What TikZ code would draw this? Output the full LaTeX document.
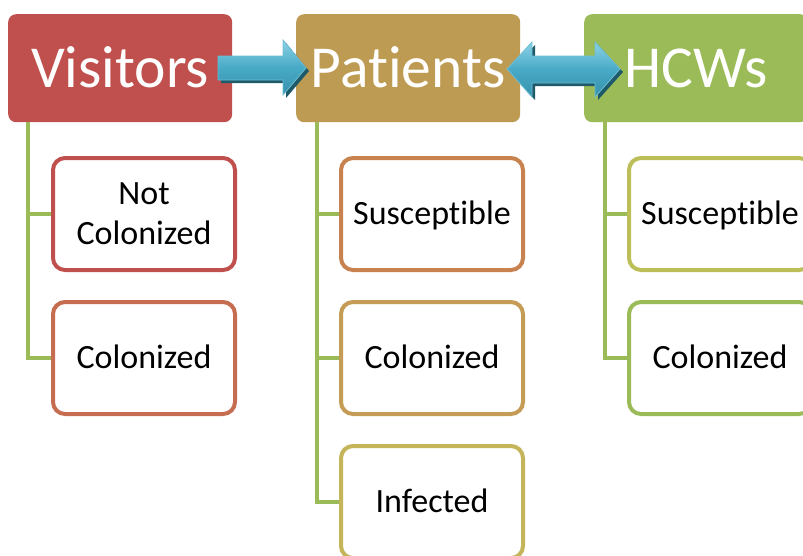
\documentclass[tikz,border=0pt]{standalone}
\usepackage{fontspec}
\setmainfont{Carlito}[RawFeature={-liga;-clig;-dlig}]
\definecolor{visc}{RGB}{192,80,77}
\definecolor{patc}{RGB}{190,155,83}
\definecolor{hcwc}{RGB}{155,187,89}
\definecolor{treeg}{RGB}{155,187,89}
\definecolor{c1}{RGB}{192,80,77}
\definecolor{c2}{RGB}{198,108,80}
\definecolor{c3}{RGB}{200,130,80}
\definecolor{c4}{RGB}{196,156,86}
\definecolor{c5}{RGB}{196,180,90}
\definecolor{c6}{RGB}{188,190,88}
\definecolor{c7}{RGB}{155,187,89}
\definecolor{arrtop}{RGB}{140,210,230}
\definecolor{arrmid}{RGB}{72,170,198}
\definecolor{arrbot}{RGB}{55,145,172}
\definecolor{arrsh}{RGB}{30,90,105}
\definecolor{arrline}{RGB}{110,190,212}
\begin{document}
\begin{tikzpicture}[x=1pt,y=1pt,
  head/.style={rounded corners=8pt, minimum width=224pt, minimum height=108pt,
    text=white, font=\fontsize{59.5}{70}\selectfont, inner sep=0pt,
    text height=38.3pt, text depth=0pt, anchor=north west},
  child/.style={draw, line width=4pt, rounded corners=12pt, fill=white,
    minimum width=182pt, minimum height=112pt, anchor=north west,
    font=\fontsize{34}{40}\selectfont, align=center, inner sep=0pt},
  one/.style={text height=21.9pt, text depth=0pt},
  tree/.style={draw=treeg, line width=4.5pt},
  arrshade/.style={top color=arrtop, bottom color=arrbot, middle color=arrmid, draw=arrline, line width=0.8pt},
  arrshadow/.style={fill=arrsh}]
\useasboundingbox (0,0) rectangle (803,-555);
\clip (0,0) rectangle (803,-555);

% headers
\node[head, fill=visc] (vis) at (8,-14) {Visitors};
\node[head, fill=patc] (pat) at (296,-14) {Patients};
\node[head, fill=hcwc] (hcw) at (584,-14) {HCWs};

% children
\node[child, draw=c1] (v1) at (51,-156) {Not\\Colonized};
\node[child, draw=c2, one] (v2) at (51,-300) {Colonized};
\node[child, draw=c3, one] (p1) at (339,-156) {Susceptible};
\node[child, draw=c4, one] (p2) at (339,-300) {Colonized};
\node[child, draw=c5, one] (p3) at (339,-444) {Infected};
\node[child, draw=c6, one] (h1) at (627,-156) {Susceptible};
\node[child, draw=c7, one] (h2) at (627,-300) {Colonized};

% tree lines
\draw[tree] ([xshift=20pt]vis.south west) |- (v1.west);
\draw[tree] ([xshift=20pt]vis.south west) |- (v2.west);
\draw[tree] ([xshift=21pt]pat.south west) |- (p1.west);
\draw[tree] ([xshift=21pt]pat.south west) |- (p2.west);
\draw[tree] ([xshift=21pt]pat.south west) |- (p3.west);
\draw[tree] ([xshift=21pt]hcw.south west) |- (h1.west);
\draw[tree] ([xshift=21pt]hcw.south west) |- (h2.west);

% arrow Visitors -> Patients
\begin{scope}[shift={(3,-3)}]
\fill[arrshadow] (218,-56) -- (283,-56) -- (283,-40) -- (306,-68) -- (283,-95) -- (283,-80) -- (218,-80) -- cycle;
\end{scope}
\path[arrshade] (218,-56) -- (283,-56) -- (283,-40) -- (306,-68) -- (283,-95) -- (283,-80) -- (218,-80) -- cycle;

% double arrow Patients <-> HCWs
\begin{scope}[shift={(3,-3)}]
\fill[arrshadow] (507,-69) -- (532,-42) -- (532,-56) -- (595,-56) -- (595,-42) -- (620,-69) -- (595,-97) -- (595,-83) -- (532,-83) -- (532,-97) -- cycle;
\end{scope}
\path[arrshade] (507,-69) -- (532,-42) -- (532,-56) -- (595,-56) -- (595,-42) -- (620,-69) -- (595,-97) -- (595,-83) -- (532,-83) -- (532,-97) -- cycle;
\end{tikzpicture}
\end{document}
